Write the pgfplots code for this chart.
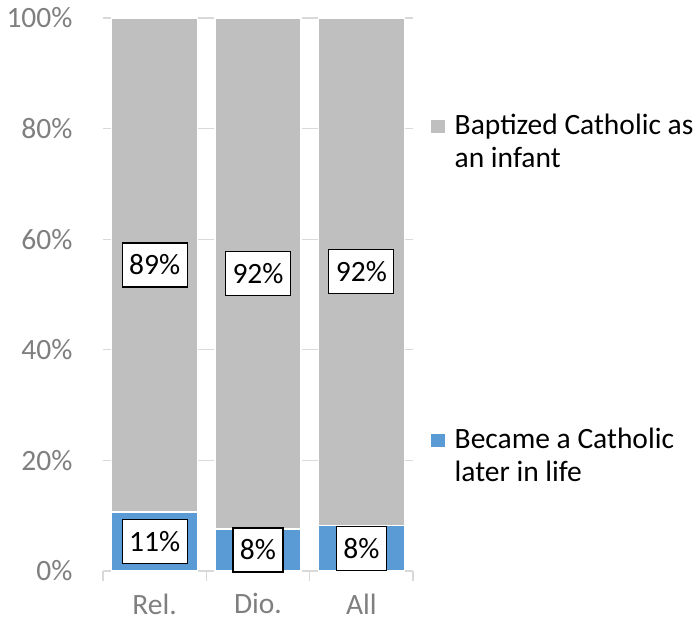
\documentclass[border=0pt]{standalone}
\usepackage{pgfplots}
\pgfplotsset{compat=1.18}
\usepackage{fontspec}
\setmainfont{Carlito}

\definecolor{bluebar}{HTML}{5B9BD5}
\definecolor{graybar}{HTML}{BFBFBF}
\definecolor{gridc}{HTML}{D9D9D9}
\definecolor{ticktext}{HTML}{7F7F7F}

\pgfplotsset{
	squareleg/.style={
		legend image code/.code={
			\fill[##1,draw=none] (0pt,8pt) rectangle (14pt,22pt);
			\path (0pt,8pt) -- (21pt,8pt);
		}
	},
}

\begin{document}
\begin{tikzpicture}[font=\fontsize{29.5}{33}\selectfont]
	\path[use as bounding box] (-103pt,-50pt) rectangle (595pt,571pt);
	\begin{axis}[
		at={(0pt,0pt)}, anchor=south west,
		scale only axis,
		width=310pt, height=553pt,
		ybar stacked,
		bar width=86pt,
		xmin=-0.5, xmax=2.5,
		ymin=0, ymax=100,
		xtick={0,1,2},
		xticklabels={Rel.,Dio.,All},
		minor xtick={-0.5,0.5,1.5,2.5},
		ytick={0,20,40,60,80,100},
		yticklabel={\pgfmathprintnumber{\tick}\%},
		/pgf/number format/assume math mode=true,
		axis x line*=bottom,
		axis y line*=left,
		x axis line style={draw=gridc, line width=1.3pt},
		y axis line style={draw=none},
		major tick length=0pt,
		minor tick length=10pt,
		tick align=outside,
		minor x tick style={draw=gridc, line width=1.3pt},
		ymajorgrids=true,
		grid style={draw=gridc, line width=1.3pt},
		ticklabel style={text=ticktext},
		yticklabel style={xshift=-27pt},
		xticklabel style={yshift=-19pt},
		% stacked labels sit in the middle of each segment already
		nodes near coords={\pgfmathprintnumber[fixed,precision=0]{\rawy}\%},
		visualization depends on=rawy \as \rawy,
		every node near coord/.append style={
			anchor=center,
			fill=white, draw=black, line width=1.3pt,
			text=black, inner xsep=7pt, minimum height=44pt,
		},
		reverse legend,
		legend cell align=left,
		legend style={
			at={(1,1)}, anchor=north west,
			xshift=14pt, yshift=-92pt,
			draw=none, fill=none,
			cells={align=left},
			row sep=255pt,
			font=\fontsize{29.5}{33}\selectfont,
		},
	]
	\addplot[fill=bluebar, draw=white, line width=1.5pt, squareleg]
		coordinates {(0,10.7) (1,7.6) (2,8.2)};
	\addplot[fill=graybar, draw=white, line width=1.5pt, squareleg]
		coordinates {(0,89.3) (1,92.4) (2,91.8)};
	\legend{{Became a Catholic\\later in life},{Baptized Catholic as\\an infant}}
	\end{axis}
\end{tikzpicture}
\end{document}
